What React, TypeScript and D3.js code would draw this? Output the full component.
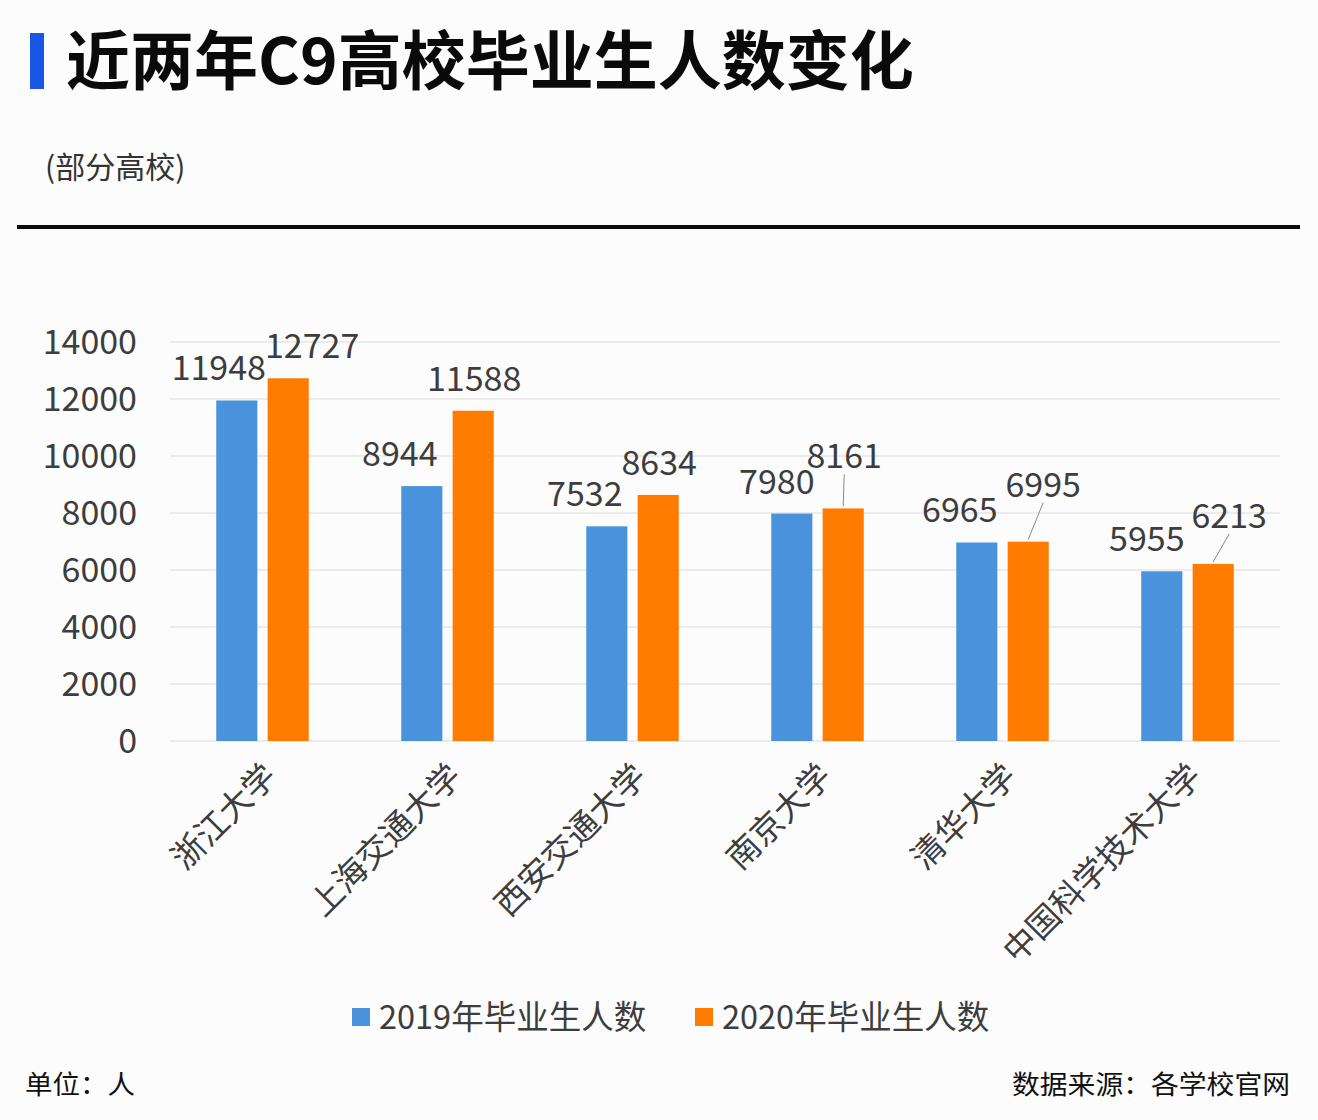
import React from "react";
import * as d3 from "d3";

const categories = ["浙江大学", "上海交通大学", "西安交通大学", "南京大学", "清华大学", "中国科学技术大学"];
const series = ["2019年毕业生人数", "2020年毕业生人数"];
const values2019 = [11948, 8944, 7532, 7980, 6965, 5955];
const values2020 = [12727, 11588, 8634, 8161, 6995, 6213];
const yTicks = [0, 2000, 4000, 6000, 8000, 10000, 12000, 14000];

// label placement tweaks (style only)
const labelDx2019 = [-18, -22, -22, -15, -17, -15];
const labelDx2020 = [24, 1, 1, 1, 15, 16];
const labelLift2020 = [0, 0, 0, 20, 25, 16];

const W = 1318;
const H = 1120;
const colors = ["#4A93DC", "#FF7C00"];
const FONT = "'Noto Sans CJK SC', 'Noto Sans', sans-serif";
const TXT = "#3d3d3d";

export default function App() {
  const x0 = d3.scaleBand<string>().domain(categories).range([170, 1280]).paddingInner(0.5).paddingOuter(0.25);
  const x1 = d3.scaleBand<string>().domain(series).range([0, x0.bandwidth()]).paddingInner(0.2);
  const y = d3.scaleLinear().domain([0, 14000]).range([741, 342]);
  const data = [values2019, values2020];
  const dxs = [labelDx2019, labelDx2020];

  return (
    <svg width={W} height={H} style={{ display: "block", position: "absolute", left: 0, top: 0, background: "#fcfcfd" }} fontFamily={FONT}>
      <rect x={0} y={0} width={W} height={H} fill="#fcfcfd" />
      {/* title */}
      <rect x={30} y={33} width={14} height={56} fill="#1a56e6" />
      <text x={66} y={84} fontSize={64} fontWeight={700} fill="#0a0a0a">近两年C9高校毕业生人数变化</text>
      <text x={45} y={178} fontSize={30} fill="#333">(部分高校)</text>
      <rect x={17} y={225} width={1283} height={4} fill="#0a0a0a" />

      {/* grid + y ticks */}
      {yTicks.map((t) => (
        <g key={t}>
          <line x1={170} x2={1280} y1={y(t)} y2={y(t)} stroke="#d9d9d9" strokeWidth={1.2} />
          <text x={137} y={y(t)} dy="0.36em" textAnchor="end" fontSize={34} fill={TXT}>{t}</text>
        </g>
      ))}

      {/* bars */}
      {series.map((s, si) =>
        categories.map((c, ci) => {
          const v = data[si][ci];
          const bx = (x0(c) as number) + (x1(s) as number);
          const bw = x1.bandwidth();
          return (
            <rect key={s + c} x={bx} y={y(v)} width={bw} height={y(0) - y(v)} fill={colors[si]} />
          );
        })
      )}

      {/* value labels */}
      {series.map((s, si) =>
        categories.map((c, ci) => {
          const v = data[si][ci];
          const bx = (x0(c) as number) + (x1(s) as number) + x1.bandwidth() / 2;
          const lift = si === 1 ? labelLift2020[ci] : 0;
          const lx = bx + dxs[si][ci];
          const ly = y(v) - 20 - lift;
          return (
            <g key={"l" + s + c}>
              {lift > 0 && (
                <line x1={bx} y1={y(v) - 2} x2={lx} y2={ly + 6} stroke="#888" strokeWidth={1} />
              )}
              <text x={lx} y={ly} textAnchor="middle" fontSize={34} fill={TXT}>{v}</text>
            </g>
          );
        })
      )}

      {/* x labels */}
      {categories.map((c) => {
        const cx = (x0(c) as number) + x0.bandwidth() / 2;
        return (
          <text key={c} transform={`translate(${cx + 8},${770}) rotate(-45)`} textAnchor="end" fontSize={33} fill={TXT} dy="0.35em">{c}</text>
        );
      })}

      {/* legend */}
      {series.map((s, i) => {
        const lx = [352, 695][i];
        return (
          <g key={"lg" + s}>
            <rect x={lx} y={1008} width={18} height={18} fill={colors[i]} />
            <text x={lx + 27} y={1017} dy="0.36em" fontSize={32.5} fill={TXT}>{s}</text>
          </g>
        );
      })}

      {/* footer */}
      <text x={25} y={1094} fontSize={26} fill="#111" textLength={110} lengthAdjust="spacingAndGlyphs">单位：人</text>
      <text x={1012} y={1094} fontSize={26} fill="#111" textLength={278} lengthAdjust="spacingAndGlyphs">数据来源：各学校官网</text>
    </svg>
  );
}
